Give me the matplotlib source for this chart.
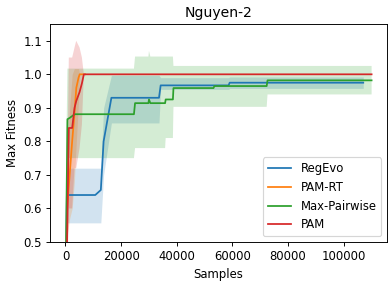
import matplotlib
matplotlib.use("Agg")
import matplotlib.pyplot as plt
import numpy as np

# RegEvo
regevo_x = [0, 500, 10700, 12700, 13700, 16500, 33600, 34200, 58600, 59000, 107000]
regevo_mean = [0.35, 0.64, 0.64, 0.655, 0.80, 0.93, 0.93, 0.967, 0.967, 0.975, 0.975]
regevo_lo = [0.30, 0.557, 0.557, 0.557, 0.70, 0.855, 0.855, 0.955, 0.955, 0.958, 0.958]
regevo_hi = [0.55, 0.72, 0.72, 0.72, 0.90, 0.997, 0.997, 0.99, 0.99, 0.992, 0.992]

# PAM-RT
pamrt_x = [0, 600, 1500, 2400, 3200, 3900, 4700, 5100, 7000]
pamrt_mean = [0.35, 0.60, 0.70, 0.80, 0.88, 0.96, 0.99, 1.0, 1.0]
pamrt_lo = [0.2, 0.52, 0.57, 0.60, 0.68, 0.80, 0.92, 1.0, 1.0]
pamrt_hi = [0.5, 0.75, 0.90, 1.0, 1.017, 1.017, 1.017, 1.0, 1.0]

# Max-Pairwise
mp_x = [0, 700, 1500, 3300, 24600, 25000, 29800, 30000, 30500, 35800, 36000,
        38600, 38800, 53200, 53500, 72300, 72600, 110000]
mp_mean = [0.3, 0.866, 0.87, 0.881, 0.881, 0.914, 0.914, 0.925, 0.914, 0.914, 0.925,
           0.925, 0.959, 0.959, 0.965, 0.965, 0.982, 0.982]
mp_lo = [0.2, 0.75, 0.75, 0.75, 0.75, 0.78, 0.78, 0.78, 0.78, 0.78, 0.81,
         0.81, 0.903, 0.903, 0.903, 0.903, 0.94, 0.94]
mp_hi = [0.6, 1.017, 1.017, 1.017, 1.017, 1.053, 1.053, 1.07, 1.053, 1.053, 1.053,
         1.053, 1.025, 1.025, 1.025, 1.025, 1.025, 1.025]

# PAM
pam_x = [0, 480, 1200, 2400, 3250, 3860, 5060, 5900, 6600, 110000]
pam_mean = [0.3, 0.45, 0.84, 0.84, 0.90, 0.92, 0.947, 0.973, 1.0, 1.0]
pam_lo = [0.1, 0.3, 0.6, 0.6, 0.72, 0.72, 0.78, 0.85, 1.0, 1.0]
pam_hi = [0.5, 0.6, 1.05, 1.05, 1.08, 1.10, 1.08, 1.05, 1.0, 1.0]

series = [
    ("RegEvo", regevo_x, regevo_mean, regevo_lo, regevo_hi, "C0"),
    ("PAM-RT", pamrt_x, pamrt_mean, pamrt_lo, pamrt_hi, "C1"),
    ("Max-Pairwise", mp_x, mp_mean, mp_lo, mp_hi, "C2"),
    ("PAM", pam_x, pam_mean, pam_lo, pam_hi, "C3"),
]

DPI = 84
fig = plt.figure(figsize=(392 / DPI, 286 / DPI), dpi=DPI)
ax = fig.add_axes([0.128, 0.154, 0.859, 0.762])
for name, x, m, lo, hi, c in series:
    ax.plot(x, m, color=c, label=name, lw=1.5)
    ax.fill_between(x, lo, hi, color=c, alpha=0.2, lw=0)

ax.set_ylim(0.5, 1.15)
ax.set_title("Nguyen-2")
ax.set_xlabel("Samples")
ax.set_ylabel("Max Fitness")
ax.legend(loc="lower right")
fig.savefig("out.png", dpi=DPI)
